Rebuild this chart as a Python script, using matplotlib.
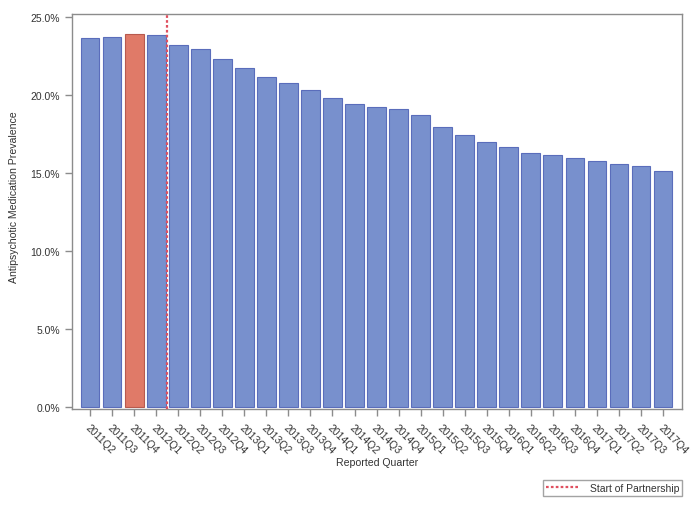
import matplotlib
matplotlib.use("Agg")
import matplotlib.pyplot as plt
from matplotlib.ticker import FuncFormatter
from matplotlib.lines import Line2D

plt.rcParams['font.family'] = ['Liberation Sans', 'DejaVu Sans']

quarters = ["2011Q2", "2011Q3", "2011Q4", "2012Q1", "2012Q2", "2012Q3", "2012Q4",
            "2013Q1", "2013Q2", "2013Q3", "2013Q4", "2014Q1", "2014Q2", "2014Q3",
            "2014Q4", "2015Q1", "2015Q2", "2015Q3", "2015Q4", "2016Q1", "2016Q2",
            "2016Q3", "2016Q4", "2017Q1", "2017Q2", "2017Q3", "2017Q4"]
prevalence = [23.65, 23.74, 23.89, 23.82, 23.23, 22.97, 22.33, 21.73, 21.15, 20.75,
              20.30, 19.81, 19.39, 19.25, 19.12, 18.72, 17.97, 17.46, 17.01, 16.67,
              16.30, 16.17, 15.98, 15.75, 15.58, 15.47, 15.15]
highlight = "2011Q4"
partnership_after = "2012Q1"

blue, blue_edge = "#7890CD", "#5A6DBB"
red, red_edge = "#E07A68", "#B85A4E"
txt = "#333333"
grey = "#8c8c8c"

fig = plt.figure(figsize=(6.99, 5.10), dpi=100)
ax = fig.add_axes([72/699, 1-410/510, 610/699, 395/510])

x = list(range(len(quarters)))
fills = [red if q == highlight else blue for q in quarters]
edges = [red_edge if q == highlight else blue_edge for q in quarters]
ax.bar(x, prevalence, width=0.85, color=fills, edgecolor=edges, linewidth=0.8, zorder=2)

xline = quarters.index(partnership_after) + 0.5
ax.axvline(xline, color="#E0505F", linestyle=(0, (1.2, 1.0)), linewidth=1.6, zorder=3)

ax.set_xlim(-0.82, len(quarters) - 1 + 0.86)
ax.set_ylim(-0.13, 25.19)
ax.set_yticks([0, 5, 10, 15, 20, 25])
ax.yaxis.set_major_formatter(FuncFormatter(lambda v, p: f"{v:.1f}%"))
ax.set_xticks(x)
ax.set_xticklabels(quarters, rotation=-45, ha="left", va="top", rotation_mode="anchor")

for s in ax.spines.values():
    s.set_color(grey)
    s.set_linewidth(1.0)
ax.tick_params(axis="both", colors=grey, labelcolor=txt, labelsize=7.5, length=5, width=1.0)
ax.tick_params(axis="x", pad=4)

ax.set_ylabel("Antipsychotic Medication Prevalence", fontsize=7.6, color=txt)
ax.yaxis.set_label_coords(-0.087, 0.539)
ax.set_xlabel("Reported Quarter", fontsize=7.6, color=txt)
ax.xaxis.set_label_coords(0.5, -0.122)

handle = Line2D([0], [0], color="#E0505F", linestyle=(0, (1.2, 1.0)), linewidth=1.6)
leg = fig.legend([handle], ["Start of Partnership"], loc="upper right",
                 bbox_to_anchor=(682/699, 1-481/510), fontsize=7.5, frameon=True,
                 fancybox=False, edgecolor=grey, handlelength=3.2, borderpad=0.3,
                 handletextpad=1.0, borderaxespad=0)
leg.get_frame().set_linewidth(1.0)
for t in leg.get_texts():
    t.set_color(txt)

fig.savefig("out.png", dpi=100)
